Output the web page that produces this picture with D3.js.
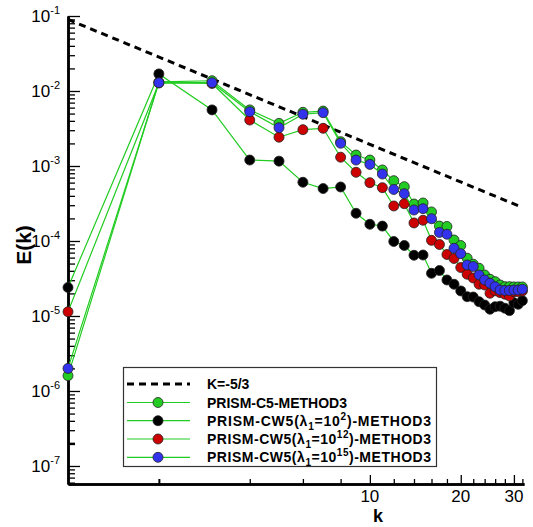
<!DOCTYPE html>
<html>
<head>
<meta charset="utf-8">
<script src="https://cdn.jsdelivr.net/npm/d3@7"></script>
<style>
  body { margin: 0; background: #fff; }
  svg { font-family: 'Liberation Sans', Arial, sans-serif; }
</style>
</head>
<body>
<svg width="533" height="527"></svg>
<script>
const width = 533;
const height = 527;

// wavenumbers 1..32
const k = [1, 2, 3, 4, 5, 6, 7, 8, 9, 10, 11, 12, 13, 14, 15, 16,
  17, 18, 19, 20, 21, 22, 23, 24, 25, 26, 27, 28, 29, 30, 31, 32];

const c5 = [1.6e-6, 0.0132, 0.0137, 5.6e-3, 3.7e-3, 5.2e-3, 5.4e-3, 2.11e-3,
  1.40e-3, 1.20e-3, 8.85e-4, 6.37e-4, 5.3e-4, 3.11e-4, 3.21e-4, 2.44e-4,
  1.58e-4, 1.56e-4, 1.03e-4, 8.7e-5, 5.9e-5, 4.9e-5, 4.33e-5, 3.52e-5,
  3.09e-5, 2.87e-5, 2.59e-5, 2.46e-5, 2.46e-5, 2.44e-5, 2.44e-5, 2.44e-5];

const cw5l2 = [2.4e-5, 0.0169, 5.6e-3, 1.2e-3, 1.16e-3, 6.07e-4, 5.0e-4, 5.25e-4,
  2.34e-4, 1.67e-4, 1.58e-4, 9.85e-5, 8.71e-5, 6.45e-5, 6.5e-5, 3.71e-5,
  4.04e-5, 3.02e-5, 2.65e-5, 2.16e-5, 1.81e-5, 1.79e-5, 1.55e-5, 1.40e-5,
  1.23e-5, 1.33e-5, 1.35e-5, 1.27e-5, 1.18e-5, 1.50e-5, 1.43e-5, 1.60e-5];

const cw5l12 = [1.14e-5, 0.0128, 0.0126, 4.1e-3, 2.42e-3, 3.05e-3, 3.18e-3, 1.31e-3,
  8.24e-4, 5.99e-4, 5.14e-4, 2.93e-4, 3.14e-4, 1.74e-4, 1.89e-4, 1.02e-4,
  8.98e-5, 6.6e-5, 5.84e-5, 4.43e-5, 3.6e-5, 3.21e-5, 2.65e-5, 2.59e-5,
  2.01e-5, 2.17e-5, 2.05e-5, 1.95e-5, 1.85e-5, 2.1e-5, 2.1e-5, 2.15e-5];

const cw5l15 = [2.0e-6, 0.0129, 0.0129, 5.3e-3, 3.24e-3, 4.9e-3, 5.14e-3, 2.01e-3,
  1.20e-3, 1.05e-3, 7.82e-4, 4.86e-4, 4.27e-4, 2.59e-4, 2.70e-4, 1.98e-4,
  1.30e-4, 1.23e-4, 8.0e-5, 6.78e-5, 4.79e-5, 4.57e-5, 3.52e-5, 3.02e-5,
  2.73e-5, 2.46e-5, 2.22e-5, 2.19e-5, 2.19e-5, 2.22e-5, 2.22e-5, 2.27e-5];

// reference slope line end points (k, E)
const refK = [1, 32];
const refE = [0.09, 2.8e-4];

const xMajor = [10, 20, 30];
const xMinor = [2, 4, 6, 8, 12, 14, 16, 18, 22, 24, 26, 28, 32];
const yExp = [-7, -6, -5, -4, -3, -2, -1];

const series = [
  {name: 'c5', values: c5, fill: '#22cc22'},
  {name: 'l2', values: cw5l2, fill: '#000000'},
  {name: 'l12', values: cw5l12, fill: '#cc0000'},
  {name: 'l15', values: cw5l15, fill: '#3333ee'}
];
const lineColor = '#22cc22';

const svg = d3.select('svg');

const x = d3.scaleLog().domain([1, 32.4]).range([68, 524]);
const y = d3.scaleLog().domain([5.75e-8, 0.1]).range([484, 16]);

// y minor ticks
const yMinor = [];
yExp.concat([-8]).forEach(function(e) {
  for (let m = 2; m <= 9; m++) {
    const v = m * Math.pow(10, e);
    if (v >= y.domain()[0] && v < y.domain()[1]) yMinor.push(v);
  }
});

const gy = svg.append('g').attr('transform', 'translate(68,0)');
gy.call(d3.axisLeft(y).tickValues(yMinor).tickSize(-7).tickSizeOuter(0).tickFormat(''));
gy.append('g').call(d3.axisLeft(y).tickValues(yExp.map(function(e) { return Math.pow(10, e); }))
  .tickSize(-12).tickSizeOuter(0).tickFormat(''));
gy.selectAll('path.domain').attr('stroke', '#000').attr('stroke-width', 2.5);
gy.selectAll('.tick line').attr('stroke', '#000').attr('stroke-width', 1.3);
gy.select('g').selectAll('.tick line').attr('stroke-width', 2.5);

const gx = svg.append('g').attr('transform', 'translate(0,484)');
gx.call(d3.axisBottom(x).tickValues(xMinor).tickSize(-5).tickSizeOuter(0).tickFormat(''));
gx.append('g').call(d3.axisBottom(x).tickValues(xMajor).tickSize(-9).tickSizeOuter(0).tickFormat(''));
gx.selectAll('path.domain').attr('stroke', '#000').attr('stroke-width', 2.5);
gx.selectAll('.tick line').attr('stroke', '#000').attr('stroke-width', 1.3);
gx.select('g').selectAll('.tick line').attr('stroke-width', 2);

// y tick labels 10^n
yExp.forEach(function(e) {
  const t = svg.append('text')
    .attr('x', 60).attr('y', y(Math.pow(10, e)) + 6)
    .attr('text-anchor', 'end')
    .attr('font-size', 17);
  t.append('tspan').text('10');
  t.append('tspan').attr('font-size', 11).attr('dy', -8).text(String(e));
});

// x tick labels
svg.append('g').selectAll('text').data(xMajor).enter().append('text')
  .attr('x', function(d) { return x(d); })
  .attr('y', 502)
  .attr('text-anchor', 'middle')
  .attr('font-size', 17)
  .text(function(d) { return d; });

// axis titles
svg.append('text')
  .attr('transform', 'translate(31,245) rotate(-90)')
  .attr('text-anchor', 'middle')
  .attr('font-size', 21).attr('font-weight', 'bold')
  .text('E(k)');
svg.append('text')
  .attr('x', 378).attr('y', 522)
  .attr('text-anchor', 'middle')
  .attr('font-size', 18).attr('font-weight', 'bold')
  .text('k');

// reference line
svg.append('path')
  .datum(d3.zip(refK, refE))
  .attr('fill', 'none')
  .attr('stroke', '#000')
  .attr('stroke-width', 3)
  .attr('stroke-dasharray', '7,5')
  .attr('d', d3.line().x(function(d) { return x(d[0]); }).y(function(d) { return y(d[1]); }));

const line = d3.line()
  .x(function(d) { return x(d[0]); })
  .y(function(d) { return y(d[1]); });

series.forEach(function(s) {
  const pts = d3.zip(k, s.values);
  const g = svg.append('g');
  g.append('path').datum(pts)
    .attr('fill', 'none').attr('stroke', lineColor).attr('stroke-width', 1.2)
    .attr('d', line);
  g.selectAll('circle').data(pts).enter().append('circle')
    .attr('cx', function(d) { return x(d[0]); })
    .attr('cy', function(d) { return y(d[1]); })
    .attr('r', 5)
    .attr('fill', s.fill)
    .attr('stroke', '#222').attr('stroke-width', 0.8);
});

// legend
const legend = svg.append('g');
legend.append('rect')
  .attr('x', 123.5).attr('y', 367.5).attr('width', 313).attr('height', 99)
  .attr('fill', '#fff').attr('stroke', '#333').attr('stroke-width', 1.2);

const rowY = [384, 402.5, 420.7, 439, 457.3];
legend.append('line')
  .attr('x1', 127).attr('x2', 190).attr('y1', rowY[0]).attr('y2', rowY[0])
  .attr('stroke', '#000').attr('stroke-width', 3).attr('stroke-dasharray', '7,5');

const labels = [
  ['K=-5/3'],
  ['PRISM-C5-METHOD3'],
  ['PRISM-CW5(\u03bb', {sub: '1'}, '=10', {sup: '2'}, ')-METHOD3'],
  ['PRISM-CW5(\u03bb', {sub: '1'}, '=10', {sup: '12'}, ')-METHOD3'],
  ['PRISM-CW5(\u03bb', {sub: '1'}, '=10', {sup: '15'}, ')-METHOD3']
];

series.forEach(function(s, i) {
  const ry = rowY[i + 1];
  legend.append('line')
    .attr('x1', 127).attr('x2', 190).attr('y1', ry).attr('y2', ry)
    .attr('stroke', lineColor).attr('stroke-width', 1.2);
  legend.append('circle')
    .attr('cx', 158).attr('cy', ry).attr('r', 5)
    .attr('fill', s.fill).attr('stroke', '#222').attr('stroke-width', 0.8);
});

labels.forEach(function(parts, i) {
  const t = legend.append('text')
    .attr('x', 207).attr('y', rowY[i] + 5)
    .attr('font-size', 14).attr('font-weight', 'bold');
  if (parts.length > 1) t.attr('textLength', 224).attr('lengthAdjust', 'spacing');
  let shift = 0;
  parts.forEach(function(p) {
    if (typeof p === 'string') {
      t.append('tspan').attr('dy', -shift).text(p);
      shift = 0;
    } else if (p.sub) {
      t.append('tspan').attr('font-size', 10).attr('dy', 4 - shift).text(p.sub);
      shift = 4;
    } else {
      t.append('tspan').attr('font-size', 10).attr('dy', -6 - shift).text(p.sup);
      shift = -6;
    }
  });
});
</script>
</body>
</html>
